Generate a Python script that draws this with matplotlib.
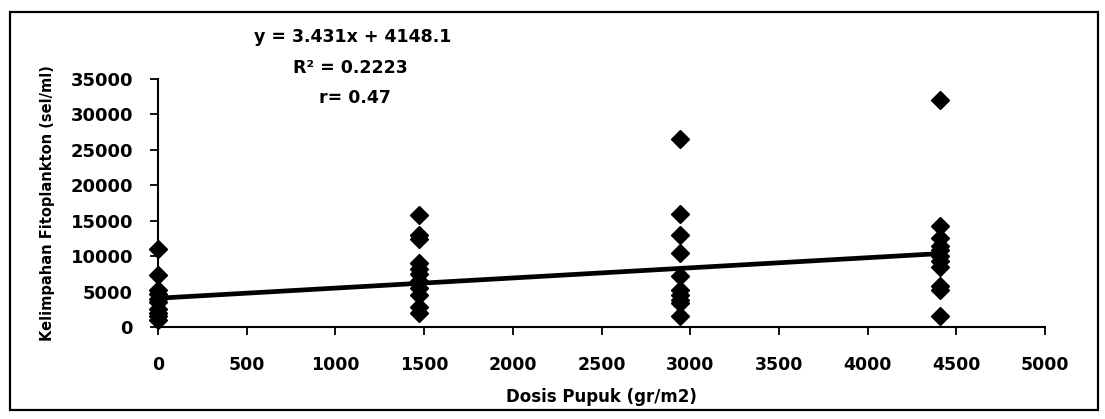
import numpy as np
import matplotlib
matplotlib.use('Agg')
from matplotlib import pyplot as plt
from matplotlib.patches import Rectangle

# doses (gr/m2) and phytoplankton abundance
dose_0 = [11000, 7400, 5200, 4700, 4000, 3500, 2600, 2000, 1500, 1000]
dose_1470 = [15800, 13000, 12400, 9000, 8200, 7500, 6500, 5500, 4500, 2800, 2000]
dose_2940 = [26500, 16000, 13000, 10400, 7200, 5200, 4500, 3800, 3400, 1600]
dose_4410 = [32000, 14300, 12500, 11500, 10800, 10000, 9300, 8400, 5800, 5200, 1500]
doses = [0, 1470, 2940, 4410]
groups = [dose_0, dose_1470, dose_2940, dose_4410]

# trend line as drawn in the picture
trend_intercept = 4060
trend_slope = 1.43

x_ticks = [0, 500, 1000, 1500, 2000, 2500, 3000, 3500, 4000, 4500, 5000]
y_ticks = [0, 5000, 10000, 15000, 20000, 25000, 30000, 35000]

W, H = 1105, 419
fig = plt.figure(figsize=(W / 100, H / 100), dpi=100)
fig.patches.append(Rectangle((10 / W, 9 / H), 1088 / W, 398 / H, transform=fig.transFigure,
                             fill=False, edgecolor='black', linewidth=1.6))

ax = fig.add_axes([158 / W, 92 / H, 887 / W, 248 / H])

for d, vals in zip(doses, groups):
    ax.plot([d] * len(vals), vals, linestyle='none', marker='D', markersize=9.5,
            color='black', zorder=3, clip_on=False)

xs = np.array([doses[0], doses[-1]])
ax.plot(xs, trend_intercept + trend_slope * xs, color='black', linewidth=3.4, zorder=2,
        clip_on=False)

ax.set_xlim(0, 5000)
ax.set_ylim(0, 35000)
ax.set_xticks(x_ticks)
ax.set_yticks(y_ticks)
ax.set_xticklabels([str(t) for t in x_ticks], fontsize=12.5, fontweight='bold')
ax.set_yticklabels([str(t) for t in y_ticks], fontsize=13, fontweight='bold')
ax.tick_params(axis='x', direction='out', length=6, width=1.3, pad=15)
ax.tick_params(axis='y', direction='out', length=6, width=1.3, pad=12)
for s in ['top', 'right']:
    ax.spines[s].set_visible(False)
for s in ['left', 'bottom']:
    ax.spines[s].set_linewidth(1.5)

ax.set_xlabel('Dosis Pupuk (gr/m2)', fontsize=12, fontweight='bold', labelpad=10)
ax.set_ylabel('Kelimpahan Fitoplankton (sel/ml)', fontsize=10.5, fontweight='bold', labelpad=11)

fig.text(353 / W, 1 - 37 / H, 'y = 3.431x + 4148.1', ha='center', va='center',
         fontsize=12.5, fontweight='bold')
fig.text(350 / W, 1 - 68 / H, 'R\u00b2 = 0.2223', ha='center', va='center',
         fontsize=12.5, fontweight='bold')
fig.text(355 / W, 1 - 98 / H, 'r= 0.47', ha='center', va='center',
         fontsize=12.5, fontweight='bold')

fig.savefig('out.png', dpi=100)
